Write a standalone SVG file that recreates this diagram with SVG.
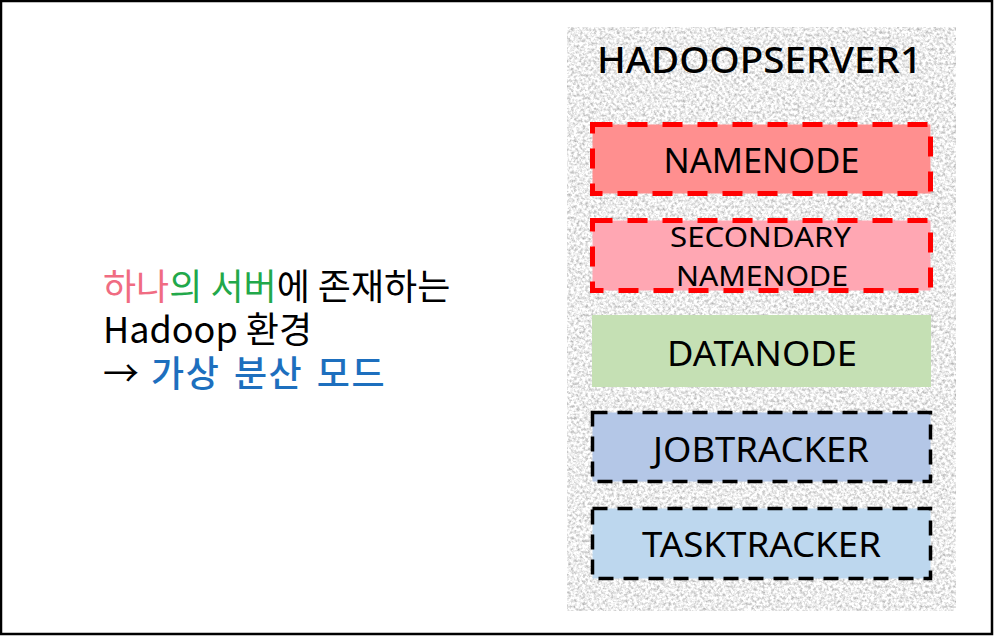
<svg xmlns="http://www.w3.org/2000/svg" width="994" height="636" viewBox="0 0 994 636">
<defs>
<filter id="granite" x="0" y="0" width="100%" height="100%" color-interpolation-filters="sRGB">
<feTurbulence type="fractalNoise" baseFrequency="0.35" numOctaves="4" seed="7" result="n"/>
<feColorMatrix in="n" type="matrix" values="0.6 0 0 0 0.63  0.6 0 0 0 0.63  0.6 0 0 0 0.63  0 0 0 0 1"/>
</filter>
<style>
.lbl{font-family:"Noto Sans","Open Sans","Liberation Sans",sans-serif;fill:#000;text-anchor:middle}
.red{stroke:#FF0000;stroke-width:5;stroke-dasharray:20 15}
.blk{stroke:#000;stroke-width:3.5;stroke-dasharray:15 10}
.kr{font-family:"Noto Sans CJK KR","Noto Sans",sans-serif;font-size:36px;fill:#000}
</style>
</defs>
<rect x="1" y="1" width="991" height="633" fill="#FFFFFF" stroke="#000" stroke-width="2.5"/>
<g id="server">
<rect x="567" y="27" width="389" height="584" fill="#EEE" filter="url(#granite)"/>
<text class="lbl" x="759.5" y="73" font-size="37" font-weight="500" textLength="325" lengthAdjust="spacingAndGlyphs">HADOOPSERVER1</text>
</g>
<g id="namenode">
<rect x="592.5" y="124.5" width="338" height="69" fill="#FF8F8F" class="red"/>
<text class="lbl" x="761.5" y="173" font-size="34" textLength="196" lengthAdjust="spacingAndGlyphs">NAMENODE</text>
</g>
<g id="secondary-namenode">
<rect x="592.5" y="220.5" width="338" height="70" fill="#FFA7B3" class="red"/>
<text class="lbl" x="760.5" y="247" font-size="28" textLength="181" lengthAdjust="spacingAndGlyphs">SECONDARY</text>
<text class="lbl" x="762" y="286" font-size="28" textLength="172" lengthAdjust="spacingAndGlyphs">NAMENODE</text>
</g>
<g id="datanode">
<rect x="592" y="315" width="339" height="72" fill="#C5E0B4"/>
<text class="lbl" x="762" y="366" font-size="34" textLength="190" lengthAdjust="spacingAndGlyphs">DATANODE</text>
</g>
<g id="jobtracker">
<rect x="592.5" y="412.5" width="338" height="69" fill="#B4C7E7" class="blk"/>
<text class="lbl" x="761" y="462" font-size="34" textLength="216" lengthAdjust="spacingAndGlyphs">JOBTRACKER</text>
</g>
<g id="tasktracker">
<rect x="592.5" y="508.5" width="338" height="70" fill="#BDD7EE" class="blk"/>
<text class="lbl" x="761.5" y="557" font-size="34" textLength="239" lengthAdjust="spacingAndGlyphs">TASKTRACKER</text>
</g>
<g id="description">
<text class="kr" x="103" y="300"><tspan fill="#F06C82">하나</tspan><tspan fill="#22A84A">의 서버</tspan>에 존재하는</text>
<text class="kr" x="103" y="343">Hadoop 환경</text>
<text class="kr" x="103" y="387">→ <tspan dx="4" fill="#1D6FBE" font-weight="500" letter-spacing="1.5" word-spacing="4">가상 분산 모드</tspan></text>
</g>
<g id="connectors"/>
</svg>
